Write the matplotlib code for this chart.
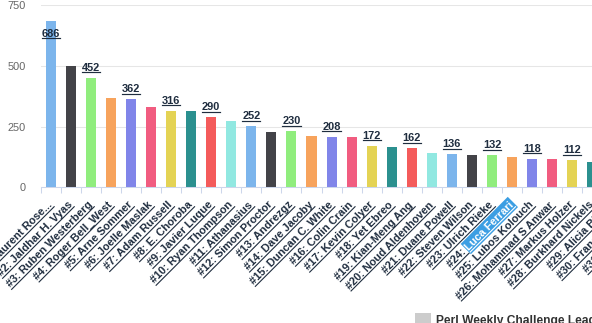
import matplotlib
matplotlib.use("Agg")
import matplotlib.pyplot as plt
from matplotlib.font_manager import FontProperties
from matplotlib.transforms import IdentityTransform
from matplotlib.lines import Line2D
from matplotlib.patches import Polygon, Rectangle
import numpy as np

# Leaderboard data
players = [
    "#1: Laurent Rose...", "#2: Jaldhar H. Vyas", "#3: Ruben Westerberg",
    "#4: Roger Bell_West", "#5: Arne Sommer", "#6: Joelle Maslak",
    "#7: Adam Russell", "#8: E. Choroba", "#9: Javier Luque",
    "#10: Ryan Thompson", "#11: Athanasius", "#12: Simon Proctor",
    "#13: Andrezgz", "#14: Dave Jacoby", "#15: Duncan C. White",
    "#16: Colin Crain", "#17: Kevin Colyer", "#18: Yet Ebreo",
    "#19: Kian-Meng Ang", "#20: Noud Aldenhoven", "#21: Duane Powell",
    "#22: Steven Wilson", "#23: Ulrich Rieke", "#24: Luca Ferrari",
    "#25: Lubos Kolouch", "#26: Mohammad S Anwar", "#27: Markus Holzer",
    "#28: Burkhard Nickels", "#29: Alicia Bielsa", "#30: Francis Whittle",
    "#31: Pete Houston",
]
scores = [686, 498, 452, 370, 362, 332, 316, 314, 290, 274, 252, 228,
          230, 212, 208, 206, 172, 166, 162, 140, 136, 134, 132, 126,
          118, 116, 112, 104]
y_ticks = [0, 250, 500, 750]
palette = ["#7cb5ec", "#434348", "#90ed7d", "#f7a35c", "#8085e9",
           "#f15c80", "#e4d354", "#2b908f", "#f45b5b", "#91e8e1"]
legend_label = "Perl Weekly Challenge Leaders"
selected_name = "Luca Ferrari"

plt.rcParams['font.family'] = ['Liberation Sans', 'DejaVu Sans']

W_PX, H_PX = 592, 323
fig = plt.figure(figsize=(W_PX / 100, H_PX / 100), dpi=100)
fig.patch.set_facecolor('white')

ink = "#1f2d3f"
cat_w = 20.06
left_px = 40.7
axis_y = 135.7
top_y = 317.7
n_cat = len(players)

ax = fig.add_axes([left_px / W_PX, axis_y / H_PX,
                   n_cat * cat_w / W_PX, (top_y - axis_y) / H_PX])
x = np.arange(len(scores))
ax.bar(x, scores, width=0.5,
       color=[palette[i % len(palette)] for i in range(len(scores))],
       linewidth=0, zorder=2)
ax.set_xlim(-0.5, n_cat - 0.5)
ax.set_ylim(0, 750)
ax.set_yticks(y_ticks)
ax.yaxis.grid(True, color="#e6e6e6", lw=0.75)
ax.set_axisbelow(True)
for s in ("top", "right", "left"):
    ax.spines[s].set_visible(False)
ax.spines["bottom"].set_color("#ccd6eb")
ax.spines["bottom"].set_linewidth(0.75)
ax.spines["bottom"].set_zorder(3)
ax.set_xticks(np.arange(n_cat + 1) - 0.5)
ax.set_xticklabels([])
ax.tick_params(axis="x", length=4.5, width=0.75, color="#ccd6eb", direction="out")
ax.tick_params(axis="y", length=0, pad=10.5, labelsize=7.92, labelcolor="#666666")
for t in ax.get_yticklabels():
    t.set_fontfamily("Liberation Sans")

renderer = fig.canvas.get_renderer()
ident = IdentityTransform()

# Value labels above every other bar
val_fp = FontProperties(family="Liberation Sans", weight="bold", size=7.92)
for i, v in enumerate(scores):
    if i % 2:
        continue
    cx, ty = ax.transData.transform((i, v))
    base = ty + 7
    if base + 8 + 5 > top_y:
        base = ty - 16
    txt = str(v)
    fig.text(cx, base, txt, transform=ident, ha="center", va="baseline",
             fontproperties=val_fp, color=ink, zorder=5)
    w = renderer.get_text_width_height_descent(txt, val_fp, ismath=False)[0]
    fig.add_artist(Line2D([cx - w / 2, cx + w / 2], [base - 1.6, base - 1.6],
                          transform=ident, color=ink, lw=0.85, zorder=5))

# Rotated, underlined category labels
lab_fp = FontProperties(family="Liberation Sans", weight="bold", size=7.92)
u = np.array([np.cos(np.pi / 4), np.sin(np.pi / 4)])
nrm = np.array([u[1], -u[0]])
for i, name in enumerate(players):
    cx = ax.transData.transform((i, 0))[0]
    A = np.array([cx + 2.0, axis_y - 18.0])
    fig.text(A[0], A[1], name, transform=ident, rotation=45,
             rotation_mode="anchor", ha="right", va="baseline",
             fontproperties=lab_fp, color=ink, zorder=5)
    w = renderer.get_text_width_height_descent(name, lab_fp, ismath=False)[0]
    p0 = A - w * u + 2.0 * nrm
    p1 = A + 2.0 * nrm
    fig.add_artist(Line2D([p0[0], p1[0]], [p0[1], p1[1]], transform=ident,
                          color=ink, lw=0.8, zorder=5))
    if name.endswith(selected_name):
        ws = renderer.get_text_width_height_descent(selected_name, lab_fp,
                                                    ismath=False)[0]
        corners = [A + t * u + s * (-nrm) for t, s in
                   ((-ws - 1, -4), (1.5, -4), (1.5, 10.5), (-ws - 1, 10.5))]
        fig.add_artist(Polygon(corners, closed=True, transform=ident,
                               facecolor="#3b9ee3", edgecolor="none", zorder=6))
        fig.text(A[0], A[1], selected_name, transform=ident, rotation=45,
                 rotation_mode="anchor", ha="right", va="baseline",
                 fontproperties=lab_fp, color="white", zorder=7)
        q0 = A - ws * u + 2.0 * nrm
        fig.add_artist(Line2D([q0[0], p1[0]], [q0[1], p1[1]], transform=ident,
                              color="white", lw=0.8, zorder=7))

# Legend
fig.add_artist(Rectangle((415, -2), 16, 12, transform=ident,
                         facecolor="#cccccc", edgecolor="none", zorder=5))
fig.text(436, -0.8, legend_label, transform=ident, ha="left", va="baseline",
         fontproperties=FontProperties(family="Liberation Sans", weight="bold",
                                       size=8.64),
         color="#333333", zorder=5)

fig.savefig("out.png", dpi=100)
